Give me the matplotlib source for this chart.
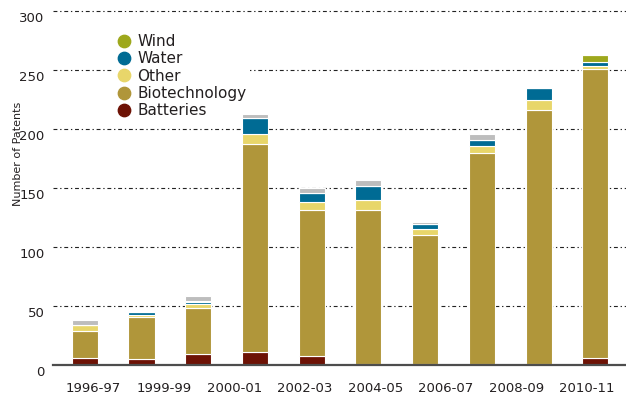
"""Stacked bar chart of patents by technology field."""

from __future__ import annotations

import matplotlib

matplotlib.use("Agg")
import matplotlib.pyplot as plt
import matplotlib.transforms as mtransforms
import numpy as np
from matplotlib.lines import Line2D


PERIODS = ["1996-97", "1999-99", "2000-01", "2002-03", "2004-05", "2006-07", "2008-09", "2010-11"]

# one value per bar, bottom of the stack first
BATTERIES = [6, 5, 9, 11, 8, 1, 1, 1, 0.5, 6]
BIOTECHNOLOGY = [23, 36, 39, 176, 123, 130, 109.5, 179, 215.5, 245]
OTHER = [5, 1, 3.5, 9, 7, 8.5, 5, 5.5, 9, 2.5]
WATER = [0, 3, 1.5, 13, 8, 12, 4, 5, 9.5, 3]
WIND = [0, 0, 1.5, 0, 0, 0, 0, 0, 0, 6]
UNLABELLED = [4, 1, 4, 4, 4, 5.5, 1.5, 5.5, 0, 0]

Y_TICKS = [0, 50, 100, 150, 200, 250, 300]

COLORS = {
    "Batteries": "#6d1205",
    "Biotechnology": "#b0963a",
    "Other": "#e8d66a",
    "Water": "#006b94",
    "Wind": "#9ea81c",
    "": "#bdbdbd",
}

TEXT_COLOR = "#231f20"


def plot_patents(path: str) -> None:
    series = [
        ("Batteries", BATTERIES),
        ("Biotechnology", BIOTECHNOLOGY),
        ("Other", OTHER),
        ("Water", WATER),
        ("Wind", WIND),
        ("", UNLABELLED),
    ]
    slots = np.arange(len(BATTERIES))

    fig = plt.figure(figsize=(6.26, 3.96), dpi=100)
    ax = fig.add_axes([0.0847, 0.0783, 0.9153, 0.8995])

    bottom = np.zeros(len(slots))
    for name, values in series:
        values = np.asarray(values, dtype=float)
        ax.bar(
            slots,
            values,
            width=0.46,
            bottom=bottom,
            color=COLORS[name],
            edgecolor="white",
            linewidth=0.8,
            zorder=3,
        )
        bottom += values

    ax.set_xlim(-0.56, 9.54)
    ax.set_ylim(0, 302)
    ax.set_yticks(Y_TICKS)
    ax.set_xticks(np.linspace(0.15, 8.85, len(PERIODS)))
    ax.set_xticklabels(PERIODS)
    ax.tick_params(axis="both", length=0, labelsize=9.5, colors=TEXT_COLOR)
    ax.tick_params(axis="x", pad=12)
    ax.tick_params(axis="y", pad=6)

    # the value labels sit a little below their gridlines
    shift = mtransforms.ScaledTranslation(0, -0.06, fig.dpi_scale_trans)
    for label in ax.get_yticklabels():
        label.set_transform(label.get_transform() + shift)

    ax.grid(
        axis="y",
        color="#222222",
        linewidth=0.8,
        linestyle=(0, (3.5, 2.5, 1.2, 2.5)),
        zorder=0,
    )
    ax.set_axisbelow(True)
    for side in ("left", "top", "right"):
        ax.spines[side].set_visible(False)
    ax.spines["bottom"].set_color("#4d4d4d")
    ax.spines["bottom"].set_linewidth(1.6)
    ax.spines["bottom"].set_zorder(4)

    ax.set_ylabel("Number of Patents", fontsize=8, color=TEXT_COLOR)
    ax.yaxis.set_label_coords(-0.052, 0.593)

    handles = [
        Line2D([], [], linestyle="none", marker="o", markersize=8.9,
               color=COLORS[name], label=name)
        for name, _ in reversed(series) if name
    ]
    legend = ax.legend(
        handles=handles,
        loc="upper left",
        bbox_to_anchor=(113 / 626, 1 - 31 / 396),
        bbox_transform=fig.transFigure,
        fontsize=11,
        labelcolor=TEXT_COLOR,
        frameon=True,
        facecolor="white",
        edgecolor="none",
        framealpha=1,
        fancybox=False,
        borderpad=0.2,
        borderaxespad=0,
        handlelength=1.0,
        handletextpad=0.4,
        labelspacing=0.15,
    )
    # keep the white legend box over the gridlines but under the bars
    legend.set_zorder(2)

    fig.savefig(path, dpi=100)
    plt.close(fig)


def main() -> int:
    plot_patents("out.png")
    return 0


if __name__ == "__main__":
    raise SystemExit(main())
